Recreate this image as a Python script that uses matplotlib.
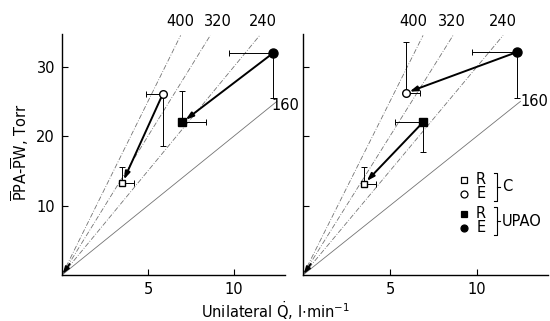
import matplotlib
matplotlib.use("Agg")
import matplotlib.pyplot as plt
from matplotlib.lines import Line2D

plt.rcParams['font.family'] = ['DejaVu Sans']
plt.rcParams['mathtext.fontset'] = 'dejavusans'

W, H = 550, 321
FS = 10.5

# iso-resistance lines: label -> slope (Torr per l/min)
iso_labels = ["400", "320", "240", "160"]
iso_slopes = [5.0, 4.0, 3.0, 2.0]

# Left panel (rest vs exercise)
L_C_R = (3.5, 13.2)
L_C_E = (5.85, 26.0)
L_U_R = (7.0, 22.0)
L_U_E = (12.3, 32.0)
# errors: (x_minus, x_plus, y_minus, y_plus)
L_C_R_err = (0, 0.7, 0, 2.3)
L_C_E_err = (0.95, 0, 7.4, 0)
L_U_R_err = (0, 1.4, 0, 4.5)
L_U_E_err = (2.6, 0, 6.5, 0)

# Right panel (C vs UPAO)
R_C_R = (3.5, 13.1)
R_C_E = (5.9, 26.2)
R_U_R = (6.9, 22.0)
R_U_E = (12.3, 32.1)
R_C_R_err = (0, 0.7, 0, 2.4)
R_C_E_err = (0, 0.8, 0, 7.3)
R_U_R_err = (1.6, 0, 4.3, 0)
R_U_E_err = (2.6, 0, 6.6, 0)

fig = plt.figure(figsize=(W / 100, H / 100), dpi=100)

def px_axes(x0, x1, ytop, ybot):
    return fig.add_axes([x0 / W, 1 - ybot / H, (x1 - x0) / W, (ybot - ytop) / H])

axL = px_axes(62, 285, 34, 275)
axR = px_axes(303, 548, 34, 275)
axL.set_xlim(0, 12.97)
axR.set_xlim(0, 14.08)
for ax in (axL, axR):
    ax.set_ylim(0, 34.7)
    ax.spines['top'].set_visible(False)
    ax.spines['right'].set_visible(False)
    for s in ('left', 'bottom'):
        ax.spines[s].set_linewidth(1.0)
    ax.set_xticks([5, 10])
    ax.set_yticks([10, 20, 30])
    ax.tick_params(direction='in', length=4, width=0.8, labelsize=FS, pad=5)
axR.set_yticklabels([])
axL.set_xticklabels(['5', '10'])
axR.set_xticklabels(['5', '10'])

iso_styles = [(0, (6, 2, 1, 2)), (0, (6, 2, 1, 2)), (0, (6, 2, 1, 2)), '-']
for ax in (axL, axR):
    for lab, s, ls in zip(iso_labels, iso_slopes, iso_styles):
        if lab == "160":
            xe = 12.5
        else:
            xe = 34.5 / s
        ax.plot([0, xe], [0, s * xe], color='0.45', lw=0.6, ls=ls)

# isoline labels
for lab, xx, yy in [("400", 6.86, 36.5), ("320", 9.07, 36.5), ("240", 11.69, 36.5), ("160", 12.97, 24.4)]:
    axL.text(xx, yy, lab, fontsize=FS, ha='center', va='center', clip_on=False)
for lab, xx, yy in [("400", 6.32, 36.5), ("320", 8.56, 36.5), ("240", 11.5, 36.5), ("160", 13.3, 25.0)]:
    axR.text(xx, yy, lab, fontsize=FS, ha='center', va='center', clip_on=False)

def ebar(ax, pt, err):
    xm, xp, ym, yp = err
    ax.errorbar([pt[0]], [pt[1]], xerr=[[xm], [xp]], yerr=[[ym], [yp]], fmt='none',
                ecolor='k', elinewidth=0.7, capsize=2, capthick=0.7,
                linestyle=':', zorder=2)

def arrow(ax, start, end):
    ax.annotate('', xy=end, xytext=start,
                arrowprops=dict(arrowstyle='-|>,head_length=0.45,head_width=0.15',
                                lw=1.4, color='k', shrinkA=0, shrinkB=3), zorder=3)

# left panel
for pt, e in [(L_C_R, L_C_R_err), (L_C_E, L_C_E_err), (L_U_R, L_U_R_err), (L_U_E, L_U_E_err)]:
    ebar(axL, pt, e)
arrow(axL, L_C_E, L_C_R)
arrow(axL, L_U_E, L_U_R)
axL.plot(*L_C_R, marker='s', ms=5, mfc='white', mec='k', mew=1, zorder=4)
axL.plot(*L_C_E, marker='o', ms=5.5, mfc='white', mec='k', mew=1, zorder=4)
axL.plot(*L_U_R, marker='s', ms=6, mfc='k', mec='k', zorder=4)
axL.plot(*L_U_E, marker='o', ms=6.5, mfc='k', mec='k', zorder=4)

# right panel
for pt, e in [(R_C_R, R_C_R_err), (R_C_E, R_C_E_err), (R_U_R, R_U_R_err), (R_U_E, R_U_E_err)]:
    ebar(axR, pt, e)
arrow(axR, R_U_E, R_C_E)
arrow(axR, R_U_R, R_C_R)
axR.plot(*R_C_R, marker='s', ms=5, mfc='white', mec='k', mew=1, zorder=4)
axR.plot(*R_C_E, marker='o', ms=5.5, mfc='white', mec='k', mew=1, zorder=4)
axR.plot(*R_U_R, marker='s', ms=6, mfc='k', mec='k', zorder=4)
axR.plot(*R_U_E, marker='o', ms=6.5, mfc='k', mec='k', zorder=4)

# small arrows at origin
for ax in (axL, axR):
    ax.annotate('', xy=(0.05, 0.2), xytext=(0.45, 1.6),
                arrowprops=dict(arrowstyle='-|>,head_length=0.4,head_width=0.15',
                                lw=1.2, color='k', shrinkA=0, shrinkB=0))

# legend (figure pixel coords)
def fx(x):
    return x / W
def fy(y):
    return 1 - y / H

rows = [(180, 's', 'white', 'R'), (194, 'o', 'white', 'E'),
        (214, 's', 'k', 'R'), (228, 'o', 'k', 'E')]
for y, m, fc, lab in rows:
    fig.add_artist(Line2D([fx(464)], [fy(y)], marker=m, ms=5, mfc=fc, mec='k',
                          mew=0.9, ls='none', transform=fig.transFigure))
    fig.text(fx(481), fy(y), lab, fontsize=FS, ha='center', va='center')

def bracket(y0, y1):
    xb = 497
    ym = (y0 + y1) / 2
    fig.add_artist(Line2D([fx(xb - 3), fx(xb), fx(xb), fx(xb - 3)],
                          [fy(y0), fy(y0), fy(y1), fy(y1)], color='k', lw=0.8,
                          transform=fig.transFigure))
    fig.add_artist(Line2D([fx(xb), fx(xb + 3)], [fy(ym), fy(ym)], color='k', lw=0.8,
                          transform=fig.transFigure))
    return ym

ymc = bracket(173, 201)
fig.text(fx(502), fy(ymc), 'C', fontsize=FS, ha='left', va='center')
ymu = bracket(207, 235)
fig.text(fx(502), fy(ymu), 'UPAO', fontsize=FS, ha='left', va='center')

# axis labels
fig.text(fx(20), fy(152), r'$\overline{\mathrm{P}}$PA-$\overline{\mathrm{P}}$W, Torr',
         rotation=90, fontsize=FS, ha='center', va='center')
fig.text(fx(275), fy(311), r'Unilateral $\dot{\mathrm{Q}}$, l$\cdot$min$^{-1}$',
         fontsize=FS, ha='center', va='center')

fig.savefig('out.png', dpi=100, facecolor='white')
